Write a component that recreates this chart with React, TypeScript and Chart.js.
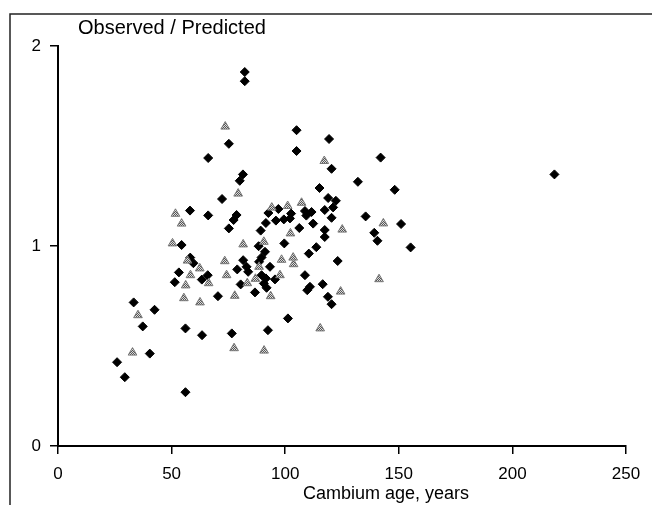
import React, { useEffect, useRef } from "react";
import { Chart, registerables } from "chart.js";

Chart.register(...registerables);

// Series 1: black diamonds (cambium age, observed / predicted)
const diamondAge = [
  82.2, 82.2, 105.0, 119.3, 75.2, 105.0, 66.1, 142.0, 120.4, 81.4, 80.0, 132.0, 115.1, 148.2, 72.2,
  118.9, 122.3, 121.1, 58.1, 66.1, 78.6, 77.3, 75.2, 117.4, 120.4, 112.3, 106.2, 117.4, 117.4, 135.4,
  151.0, 139.2, 140.6, 155.2, 89.2, 99.6, 113.7, 110.4, 54.4, 123.1, 92.6, 97.0, 91.5, 95.9, 99.4,
  102.6, 102.1, 108.7, 111.6, 109.3, 88.3, 91.1, 89.6, 88.5, 81.5, 83.0, 78.9, 83.7, 89.6, 91.5,
  90.6, 91.8, 95.5, 80.4, 86.7, 108.7, 116.5, 110.9, 109.7, 118.8, 120.4, 101.2, 76.5, 92.4, 70.4,
  93.3, 58.2, 59.6, 53.2, 51.4, 65.9, 63.3, 56.1, 63.4, 40.4, 26.0, 29.4, 56.1, 33.3, 42.5,
  37.3, 218.5,
];
const diamondRatio = [
  1.87, 1.824, 1.579, 1.535, 1.511, 1.475, 1.44, 1.442, 1.386, 1.358, 1.326, 1.321, 1.29, 1.281, 1.235,
  1.24, 1.226, 1.193, 1.177, 1.153, 1.155, 1.13, 1.088, 1.18, 1.141, 1.112, 1.09, 1.08, 1.045, 1.148,
  1.11, 1.066, 1.026, 0.993, 1.077, 1.013, 0.994, 0.962, 1.005, 0.925, 1.165, 1.185, 1.115, 1.127, 1.133,
  1.162, 1.138, 1.175, 1.17, 1.152, 0.999, 0.971, 0.943, 0.921, 0.929, 0.896, 0.883, 0.871, 0.854, 0.838,
  0.813, 0.791, 0.833, 0.808, 0.768, 0.854, 0.809, 0.796, 0.779, 0.746, 0.709, 0.638, 0.563, 0.579, 0.749,
  0.896, 0.942, 0.914, 0.868, 0.819, 0.854, 0.832, 0.588, 0.554, 0.462, 0.419, 0.344, 0.269, 0.718, 0.681,
  0.598, 1.358,
];

// Series 2: grey triangles
const triangleAge = [
  73.6, 117.2, 79.3, 107.2, 101.1, 94.1, 51.7, 54.4, 125.1, 143.2, 102.3, 50.4, 81.5, 90.6, 57.0,
  73.4, 62.4, 58.3, 74.2, 98.4, 103.5, 103.7, 88.5, 97.7, 86.9, 83.3, 66.3, 56.2, 55.4, 62.5,
  77.8, 93.6, 124.4, 141.3, 115.4, 77.5, 90.7, 35.2, 32.8,
];
const triangleRatio = [
  1.597, 1.425, 1.262, 1.216, 1.2, 1.192, 1.161, 1.112, 1.082, 1.113, 1.063, 1.013, 1.008, 1.021, 0.927,
  0.924, 0.888, 0.854, 0.854, 0.931, 0.942, 0.909, 0.896, 0.854, 0.836, 0.814, 0.814, 0.803, 0.739, 0.718,
  0.751, 0.749, 0.772, 0.834, 0.588, 0.489, 0.477, 0.654, 0.467,
];

const xTicks = [0, 50, 100, 150, 200, 250];
const yTicks = [0, 1, 2];
const yTitle = "Observed / Predicted";
const xTitle = "Cambium age, years";

const FONT = '"Liberation Sans", Arial, Helvetica, sans-serif';

export default function App() {
  const ref = useRef<HTMLCanvasElement>(null);

  useEffect(() => {
    const canvas = ref.current;
    if (!canvas) return;

    const pc = document.createElement("canvas");
    pc.width = 2;
    pc.height = 2;
    const p = pc.getContext("2d")!;
    p.fillStyle = "#dcdcdc";
    p.fillRect(0, 0, 2, 2);
    p.fillStyle = "#555";
    p.fillRect(0, 0, 1, 1);
    p.fillRect(1, 1, 1, 1);
    const pattern = canvas.getContext("2d")!.createPattern(pc, "repeat");

    const decor = {
      id: "decor",
      beforeDraw(chart: any) {
        const ctx = chart.ctx;
        ctx.save();
        ctx.fillStyle = "#fff";
        ctx.fillRect(0, 0, chart.width, chart.height);
        ctx.strokeStyle = "#222";
        ctx.lineWidth = 1.5;
        ctx.beginPath();
        ctx.moveTo(10, chart.height);
        ctx.lineTo(10, 14);
        ctx.lineTo(chart.width, 14);
        ctx.stroke();
        ctx.restore();
      },
      afterDraw(chart: any) {
        const ctx = chart.ctx;
        ctx.save();
        ctx.fillStyle = "#000";
        ctx.textBaseline = "middle";
        ctx.font = `20px ${FONT}`;
        ctx.textAlign = "left";
        ctx.fillText(yTitle, 78, 28);
        ctx.font = `18px ${FONT}`;
        ctx.textAlign = "center";
        ctx.fillText(xTitle, 386, 494);
        ctx.restore();
      },
    };

    const chart = new Chart(canvas, {
      type: "scatter",
      data: {
        datasets: [
          {
            label: "triangles",
            data: triangleAge.map((x, i) => ({ x, y: triangleRatio[i] })),
            pointStyle: "triangle",
            radius: 5,
            backgroundColor: pattern as any,
            borderColor: "#777",
            borderWidth: 1,
          },
          {
            label: "diamonds",
            data: diamondAge.map((x, i) => ({ x, y: diamondRatio[i] })),
            pointStyle: "rectRot",
            radius: 4.5,
            backgroundColor: "#000",
            borderColor: "#000",
            borderWidth: 1,
          },
        ],
      },
      options: {
        responsive: false,
        devicePixelRatio: 1,
        animation: false,
        layout: { padding: { top: 46, right: 26, left: 0, bottom: 0 } },
        plugins: { legend: { display: false }, tooltip: { enabled: false }, title: { display: false } },
        scales: {
          x: {
            type: "linear",
            min: 0,
            max: 250,
            afterBuildTicks: (s: any) => {
              s.ticks = xTicks.map((v) => ({ value: v }));
            },
            afterFit: (s: any) => {
              s.height = 59;
            },
            ticks: { font: { family: FONT, size: 17 }, color: "#000", padding: 10, maxRotation: 0 },
            grid: { drawOnChartArea: false, drawTicks: true, tickLength: 8, color: "#000", lineWidth: 1.5 },
            border: { display: true, color: "#000", width: 2 },
          },
          y: {
            type: "linear",
            min: 0,
            max: 2,
            afterBuildTicks: (s: any) => {
              s.ticks = yTicks.map((v) => ({ value: v }));
            },
            afterFit: (s: any) => {
              s.width = 58;
            },
            ticks: { font: { family: FONT, size: 17 }, color: "#000", padding: 9 },
            grid: { drawOnChartArea: false, drawTicks: true, tickLength: 8, color: "#000", lineWidth: 1.5 },
            border: { display: true, color: "#000", width: 2 },
          },
        },
      },
      plugins: [decor],
    });

    return () => chart.destroy();
  }, []);

  return (
    <div style={{ position: "absolute", left: 0, top: 0, width: 652, height: 505, background: "#fff" }}>
      <canvas ref={ref} width={652} height={505} style={{ display: "block", width: 652, height: 505 }} />
    </div>
  );
}
